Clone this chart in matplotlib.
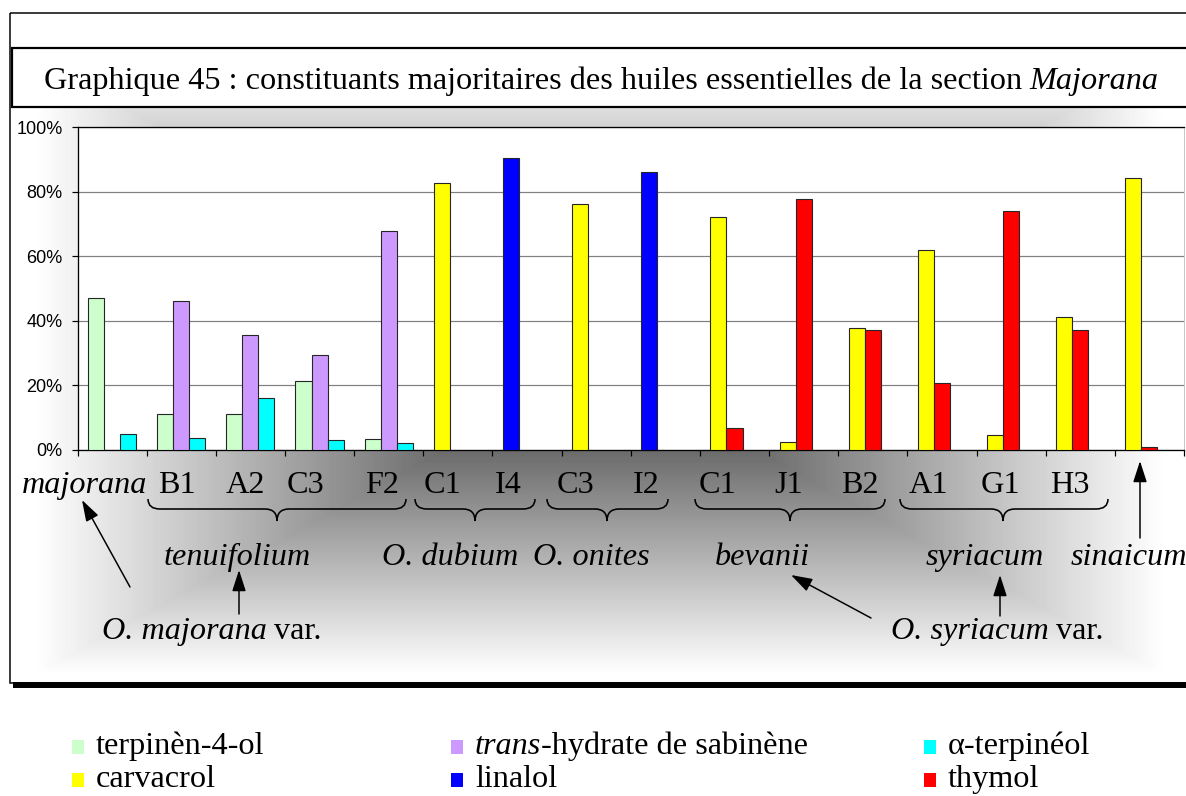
import numpy as np
import matplotlib
matplotlib.use("Agg")
import matplotlib.pyplot as plt
from matplotlib.patches import Rectangle, FancyArrowPatch, PathPatch
from matplotlib.path import Path

# samples along the x axis (16 essential oils)
samples = ["majorana", "B1", "A2", "C3", "F2", "C1", "I4", "C3",
           "I2", "C1", "J1", "B2", "A1", "G1", "H3", "sinaicum"]

# main constituents, % of the oil (0 = not a main constituent)
terpinenol = [47.0, 11.3, 11.3, 21.3, 3.4, 0, 0, 0, 0, 0, 0, 0, 0, 0, 0, 0]
sabinene_hydrate = [0, 46.1, 35.6, 29.5, 67.9, 0, 0, 0, 0, 0, 0, 0, 0, 0, 0, 0]
terpineol = [4.9, 3.8, 16.0, 3.0, 2.2, 0, 0, 0, 0, 0, 0, 0, 0, 0, 0, 0]
carvacrol = [0, 0, 0, 0, 0, 82.7, 0, 76.1, 0, 72.2, 2.5, 37.8, 62.0, 4.6, 41.3, 84.4]
linalol = [0, 0, 0, 0, 0, 0, 90.5, 0, 86.1, 0, 0, 0, 0, 0, 0, 0]
thymol = [0, 0, 0, 0, 0, 0, 0, 0, 0, 6.9, 77.8, 37.1, 20.9, 74.0, 37.1, 0.8]

series = [terpinenol, sabinene_hydrate, terpineol, carvacrol, linalol, thymol]
series_names = ["terpinèn-4-ol", "trans-hydrate de sabinène", "α-terpinéol",
                "carvacrol", "linalol", "thymol"]
series_colors = ["#ccffcc", "#cc99ff", "#00ffff", "#ffff00", "#0000ff", "#ff0000"]
series_slot = [0, 1, 2, 0, 0, 1]

# species / varieties grouping the samples
groups = ["tenuifolium", "O. dubium", "O. onites", "bevanii", "syriacum"]

W, H, DPI = 1186, 796, 100
PT = 72 / DPI
SERIF = "Liberation Serif"
plt.rcParams["font.family"] = [SERIF, "DejaVu Serif"]

fig = plt.figure(figsize=(W / DPI, H / DPI), dpi=DPI)
fig.patch.set_facecolor("white")

# background layer: shaded chart box, frame, title box
bg = fig.add_axes([0, 0, 1, 1])
bg.set_zorder(0)
bx0, bx1, by0, by1 = 10, 1192, 13, 683
# "from centre" shading: darkest in the middle, fading to white at the box edges
cx, cy, hx, hy, depth = 600, 366, 565, 308, 0.80
yy, xx = np.mgrid[by0:by1, bx0:bx1] + 0.5
frac = np.maximum(np.abs(xx - cx) / hx, np.abs(yy - cy) / hy)
shade = 1 - depth * np.clip(1 - frac, 0, 1)
bg.imshow(shade, cmap="gray", vmin=0, vmax=1, extent=(bx0, bx1, by1, by0),
          aspect="auto", interpolation="bilinear")
bg.add_patch(Rectangle((bx0, by0), bx1 - bx0, by1 - by0, fill=False,
                       edgecolor="black", lw=1.5 * PT))
bg.add_patch(Rectangle((bx0 + 3, by1 - 1), bx1 - bx0, 6, facecolor="black", edgecolor="none"))
bg.add_patch(Rectangle((12, 48), 1200, 59, facecolor="white", edgecolor="black", lw=2.2 * PT))
bg.set_xlim(0, W)
bg.set_ylim(H, 0)
bg.axis("off")

# bar chart
x_left, x_right, y_top, y_bot = 77.5, 1184, 127.3, 450
ax = fig.add_axes([x_left / W, 1 - y_bot / H, (x_right - x_left) / W, (y_bot - y_top) / H])
ax.set_zorder(1)
ax.set_facecolor("white")

bw = 0.232
idx = np.arange(len(samples))
for vals, color, slot in zip(series, series_colors, series_slot):
    vals = np.asarray(vals, dtype=float)
    keep = vals > 0
    ax.bar(idx[keep] + 0.5 + (slot - 1) * bw, vals[keep], width=bw, color=color,
           edgecolor="#262626", lw=1.1 * PT, zorder=3)

ax.set_xlim(0, len(samples))
ax.set_ylim(0, 100)
ax.set_yticks(range(0, 101, 20))
ax.set_yticklabels([f"{v}%" for v in range(0, 101, 20)], fontfamily="Liberation Sans", fontsize=13)
ax.set_xticks(range(len(samples) + 1))
ax.set_xticklabels([])
ax.tick_params(axis="y", direction="out", length=6 * PT, width=1.2 * PT, pad=9 * PT)
ax.tick_params(axis="x", direction="out", length=6 * PT, width=1.2 * PT)
ax.yaxis.grid(True, color="#808080", lw=1.2 * PT)
ax.set_axisbelow(True)
for side in ["left", "bottom", "top"]:
    ax.spines[side].set_color("black")
    ax.spines[side].set_linewidth(1.3 * PT)
ax.spines["right"].set_color("#c8c8c8")
ax.spines["right"].set_linewidth(1 * PT)

# annotation layer in pixel coordinates
ov = fig.add_axes([0, 0, 1, 1])
ov.set_zorder(2)
ov.set_xlim(0, W)
ov.set_ylim(H, 0)
ov.axis("off")

renderer = fig.canvas.get_renderer()
BIG = 23.2


def rich_text(x, y, parts, size, ha="center", gap=0.0):
    arts = [ov.text(0, y, s, fontsize=size, style=st, va="baseline", ha="left")
            for s, st in parts]
    widths = [a.get_window_extent(renderer).width for a in arts]
    total = sum(widths) + gap * (len(arts) - 1)
    x0 = x - total / 2 if ha == "center" else x
    for a, w in zip(arts, widths):
        a.set_x(x0)
        x0 += w + gap


def brace(x0, x1, xm, y_top=499, y_mid=509, y_tip=521, r=12):
    verts = [(x0, y_top), (x0, y_mid), (x0 + r, y_mid),
             (xm - r, y_mid), (xm, y_mid), (xm, y_tip),
             (xm, y_mid), (xm + r, y_mid),
             (x1 - r, y_mid), (x1, y_mid), (x1, y_top)]
    codes = [Path.MOVETO, Path.CURVE3, Path.CURVE3, Path.LINETO, Path.CURVE3, Path.CURVE3,
             Path.CURVE3, Path.CURVE3, Path.LINETO, Path.CURVE3, Path.CURVE3]
    ov.add_patch(PathPatch(Path(verts, codes), fill=False, edgecolor="black", lw=1.6 * PT))


def arrow(tail, head):
    ov.add_patch(FancyArrowPatch(tail, head, arrowstyle="-|>,head_length=1.3,head_width=0.42",
                                 mutation_scale=10, color="black", lw=1.5 * PT,
                                 shrinkA=0, shrinkB=0))


# title
rich_text(601, 89, [("Graphique 45 : constituants majoritaires des huiles essentielles de la section",
                     "normal"), ("Majorana", "italic")], BIG, gap=7)

# sample codes under the axis
label_x = [85, 177, 245, 306, 382, 443, 508, 575, 646, 718, 789, 860, 928, 1000, 1070]
for i, lx in enumerate(label_x):
    ov.text(lx, 493, samples[i], fontsize=BIG, ha="center", va="baseline",
            style="italic" if i == 0 else "normal")

# braces around the samples of each species / variety
for x0, x1, xm in [(148, 406, 277), (415, 535, 475), (547, 668, 607),
                   (695, 885, 790), (900, 1108, 1003)]:
    brace(x0, x1, xm)

for gx, name in zip([237, 450, 591, 762, 985], groups):
    ov.text(gx, 565, name, fontsize=BIG, style="italic", ha="center", va="baseline")
ov.text(1129, 565, "sinaicum", fontsize=BIG, style="italic", ha="center", va="baseline")

rich_text(212, 639, [("O. majorana", "italic"), ("var.", "normal")], BIG, gap=7)
rich_text(997, 639, [("O. syriacum", "italic"), ("var.", "normal")], BIG, gap=7)

arrow((130, 587), (82, 500))
arrow((239, 614), (239, 570))
arrow((871, 618), (791, 575))
arrow((1000, 616), (1000, 575))
arrow((1140, 538), (1140, 461))

# legend below the chart box
leg_x = [72, 451, 924]
leg_base = [754, 787]
for k, (name, color) in enumerate(zip(series_names, series_colors)):
    lx, ly = leg_x[k % 3], leg_base[k // 3]
    ov.add_patch(Rectangle((lx, ly - 14), 12, 14, facecolor=color, edgecolor="none"))
    if name.startswith("trans"):
        rich_text(lx + 24, ly, [("trans", "italic"), (name[5:], "normal")], BIG, ha="left")
    else:
        ov.text(lx + 24, ly, name, fontsize=BIG, ha="left", va="baseline")

fig.savefig("out.png", dpi=DPI)
